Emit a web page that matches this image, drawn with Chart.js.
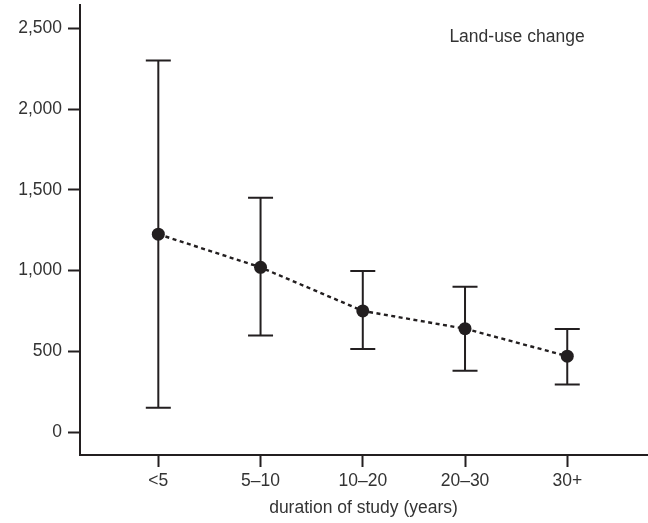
<!DOCTYPE html>
<html>
<head>
<meta charset="utf-8">
<script src="https://cdn.jsdelivr.net/npm/chart.js@4.4.0/dist/chart.umd.min.js"></script>
<style>
  html, body { margin: 0; padding: 0; background: #fff; }
  #wrap { width: 648px; height: 523px; position: relative; }
</style>
</head>
<body>
<div id="wrap"><canvas id="chart"></canvas></div>
<script>
// categorias e valores
const categories = ['<5', '5–10', '10–20', '20–30', '30+'];
const means = [1225, 1020, 750, 640, 470];
const lower = [150, 598, 515, 380, 295];
const upper = [2300, 1450, 997, 900, 638];
const yTicks = [0, 500, 1000, 1500, 2000, 2500];
const seriesLabel = 'Land-use change';

const ink = '#231f20';
const textColor = '#333333';
const fontFamily = '"Liberation Sans", Arial, sans-serif';
const fontSize = 17.5;

// barras de erro desenhadas pelas escalas do próprio Chart.js
const errorBars = {
    id: 'errorBars',
    beforeDatasetsDraw(chart) {
        const { ctx, scales: { x, y } } = chart;
        ctx.save();
        ctx.strokeStyle = ink;
        ctx.lineWidth = 2;
        const cap = 12.5;
        categories.forEach((c, i) => {
            const px = x.getPixelForValue(i);
            const yLo = y.getPixelForValue(lower[i]);
            const yHi = y.getPixelForValue(upper[i]);
            ctx.beginPath();
            ctx.moveTo(px, yLo);
            ctx.lineTo(px, yHi);
            ctx.moveTo(px - cap, yHi);
            ctx.lineTo(px + cap, yHi);
            ctx.moveTo(px - cap, yLo);
            ctx.lineTo(px + cap, yLo);
            ctx.stroke();
        });
        ctx.restore();
    }
};

// legenda em texto simples no canto superior direito
const seriesNote = {
    id: 'seriesNote',
    afterDraw(chart) {
        const { ctx, chartArea } = chart;
        ctx.save();
        ctx.fillStyle = textColor;
        ctx.font = fontSize + 'px ' + fontFamily;
        ctx.textAlign = 'center';
        ctx.textBaseline = 'middle';
        ctx.fillText(seriesLabel, chartArea.left + 437, chartArea.top + 32);
        ctx.restore();
    }
};

new Chart(document.getElementById('chart').getContext('2d'), {
    type: 'line',
    data: {
        datasets: [{
            label: seriesLabel,
            data: means.map((v, i) => ({ x: i, y: v })),
            borderColor: ink,
            borderWidth: 2.4,
            borderDash: [4, 3.5],
            pointRadius: 6.5,
            pointBackgroundColor: ink,
            pointBorderColor: ink,
            pointBorderWidth: 0,
            fill: false,
            tension: 0
        }]
    },
    options: {
        responsive: true,
        maintainAspectRatio: false,
        animation: false,
        layout: { autoPadding: false, padding: { top: 5, right: 1, left: 0, bottom: 0 } },
        plugins: {
            legend: { display: false },
            tooltip: { enabled: false }
        },
        scales: {
            x: {
                type: 'linear',
                min: -0.766,
                max: 4.78,
                afterBuildTicks: axis => { axis.ticks = categories.map((c, i) => ({ value: i })); },
                afterFit: axis => {
                    axis.height = 68;
                    axis.paddingLeft = 0;
                    axis.paddingRight = 0;
                },
                ticks: {
                    callback: v => categories[v],
                    color: textColor,
                    font: { size: fontSize, family: fontFamily },
                    padding: 4,
                    maxRotation: 0
                },
                grid: { drawOnChartArea: false, tickLength: 12, tickWidth: 2, tickColor: ink },
                border: { color: ink, width: 2 },
                title: {
                    display: true,
                    text: 'duration of study (years)',
                    color: textColor,
                    font: { size: fontSize, family: fontFamily },
                    padding: { top: 0, bottom: 4 }
                }
            },
            y: {
                min: -142,
                max: 2644,
                afterBuildTicks: axis => { axis.ticks = yTicks.map(v => ({ value: v })); },
                afterFit: axis => {
                    axis.width = 80;
                    axis.paddingTop = 0;
                    axis.paddingBottom = 0;
                },
                ticks: {
                    callback: v => v.toLocaleString('en-US'),
                    color: textColor,
                    font: { size: fontSize, family: fontFamily },
                    padding: 6
                },
                grid: { drawOnChartArea: false, tickLength: 12, tickWidth: 2, tickColor: ink },
                border: { color: ink, width: 2 }
            }
        }
    },
    plugins: [errorBars, seriesNote]
});
</script>
</body>
</html>
